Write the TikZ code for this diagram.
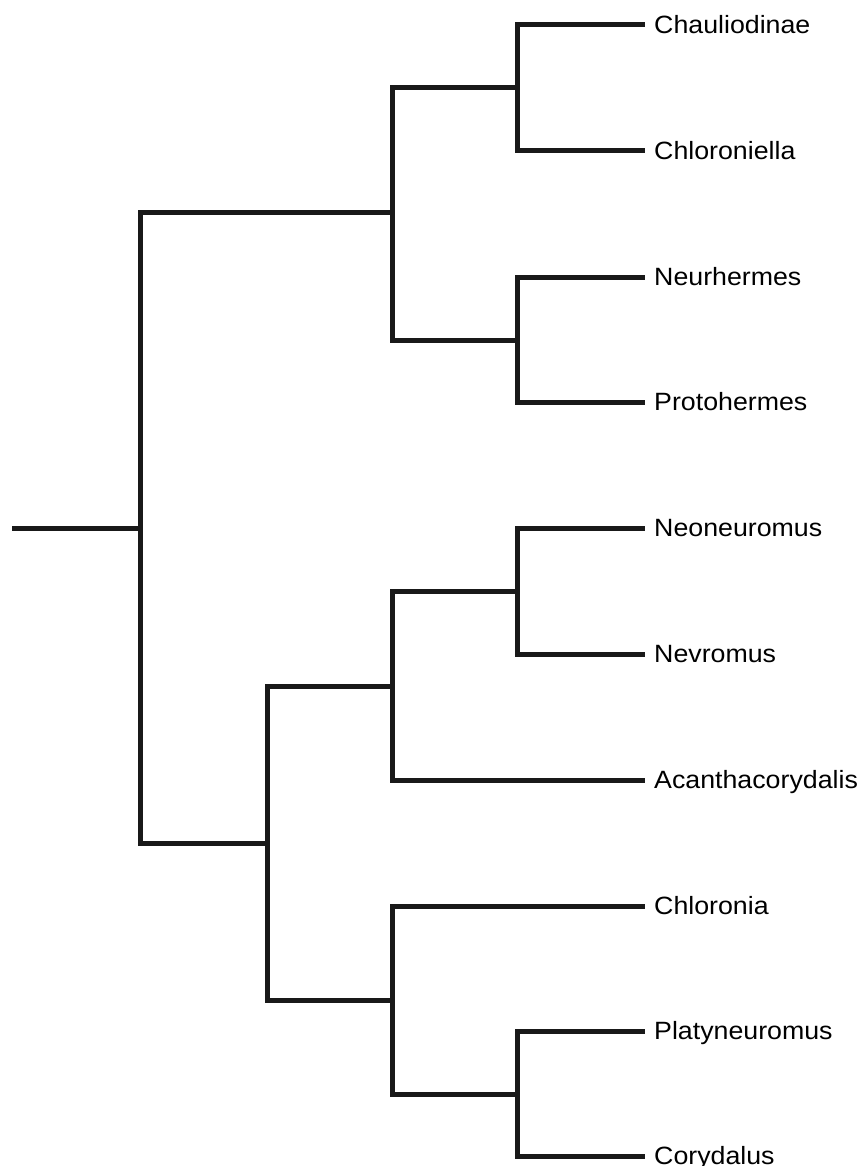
\documentclass[tikz,border=0pt]{standalone}
\usepackage{fontspec}
\usepackage{tikz}
\newfontfamily\taxfont[FakeStretch=1.07]{Liberation Sans}
\tikzset{
  taxon/.style={anchor=west, inner xsep=9pt, inner ysep=0pt, text height=17.9pt, text depth=0pt,
                font=\taxfont\fontsize{25}{30}\selectfont},
  arm/.style={line width=5pt, draw=black!90, line join=miter},
}
\begin{document}
\begin{tikzpicture}[x=1pt, y=-1pt]
        \useasboundingbox (0,0) rectangle (863,1166);
        \node[taxon] (chau) at (645,25) {Chauliodinae};
        \node[taxon] (chlo) at (645,151) {Chloroniella};
        \node[taxon] (neur) at (645,277) {Neurhermes};
        \node[taxon] (prot) at (645,402) {Protohermes};
        \node[taxon] (neon) at (645,528) {Neoneuromus};
        \node[taxon] (nevr) at (645,654) {Nevromus};
        \node[taxon] (acan) at (645,780) {Acanthacorydalis};
        \node[taxon] (chln) at (645,906) {Chloronia};
        \node[taxon] (plat) at (645,1031) {Platyneuromus};
        \node[taxon] (cory) at (645,1156) {Corydalus};
        \coordinate (n1) at (517,88);  \coordinate (n2) at (517,340);
        \coordinate (n3) at (392,213); \coordinate (n4) at (517,591);
        \coordinate (n5) at (392,686); \coordinate (n6) at (517,1094);
        \coordinate (n7) at (392,1000); \coordinate (n8) at (267,843);
        \coordinate (n9) at (140,528); \coordinate (base) at (12,528);
        \draw[arm] (n1) |- (chau.west); \draw[arm] (n1) |- (chlo.west);
        \draw[arm] (n2) |- (neur.west); \draw[arm] (n2) |- (prot.west);
        \draw[arm] (n4) |- (neon.west); \draw[arm] (n4) |- (nevr.west);
        \draw[arm] (n6) |- (plat.west); \draw[arm] (n6) |- (cory.west);
        \draw[arm] (n3) |- (n1); \draw[arm] (n3) |- (n2);
        \draw[arm] (n5) |- (n4); \draw[arm] (n5) |- (acan.west);
        \draw[arm] (n7) |- (chln.west); \draw[arm] (n7) |- (n6);
        \draw[arm] (n8) |- (n5); \draw[arm] (n8) |- (n7);
        \draw[arm] (n9) |- (n3); \draw[arm] (n9) |- (n8);
        \draw[arm] (base) -- (n9);
      \end{tikzpicture}
\end{document}
